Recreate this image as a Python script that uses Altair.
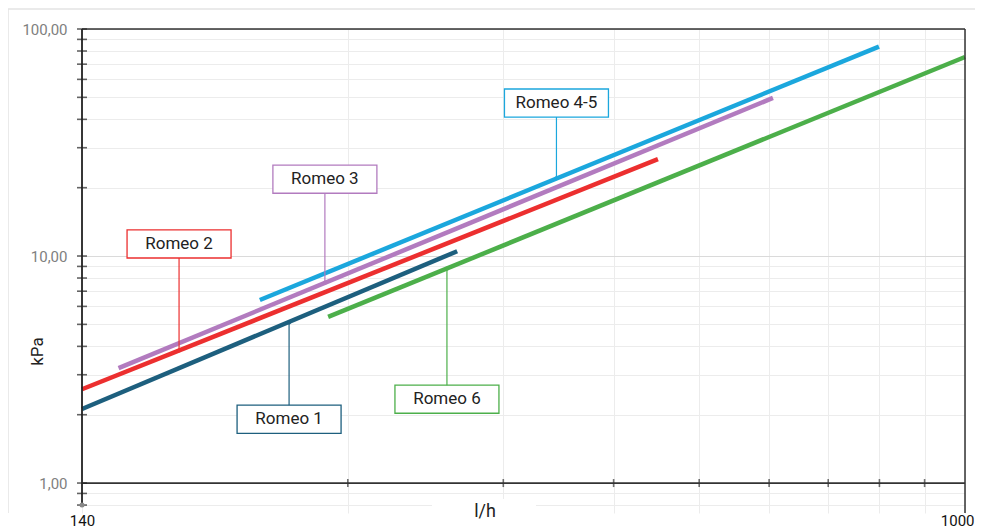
import altair as alt
import pandas as pd

# ---- data ----
series = ["Romeo 1", "Romeo 2", "Romeo 3", "Romeo 4-5", "Romeo 6"]
colors = ["#1d5f7e", "#ec2f2f", "#b27bbf", "#1ba7dd", "#4caf4a"]
x_start = [100, 100, 110, 159, 190]
x_end = [266, 449, 606, 799, 1000]
y_start = [2.12, 2.59, 3.21, 6.40, 5.39]
y_end = [10.5, 26.7, 49.7, 83.7, 75.3]

label_x = [171.6, 128.8, 188.4, 344.6, 259]
label_anchor_y = [5.1, 3.84, 7.63, 22.0, 8.82]
label_box_y = [1.91, 11.3, 21.8, 47.2, 2.34]

x_ticks = [100, 200, 300, 400, 500, 600, 700, 800, 900, 1000]
x_label_values = [100, 1000]
x_label_texts = ["140", "1000"]
y_ticks = [0.8, 0.9, 1, 2, 3, 4, 5, 6, 7, 8, 9, 10, 20, 30, 40, 50, 60, 70, 80, 90, 100]
y_label_values = [1, 10, 100]
y_label_texts = ["1,00", "10,00", "100,00"]
y_domain = [0.738, 100]
x_domain = [100, 1000]

# ---- tables ----
rows = []
for s, xa, xb, ya, yb in zip(series, x_start, x_end, y_start, y_end):
    rows.append({"series": s, "x": xa, "y": ya})
    rows.append({"series": s, "x": xb, "y": yb})
df_lines = pd.DataFrame(rows)
df_ann = pd.DataFrame({"series": series, "x": label_x, "ya": label_anchor_y, "yb": label_box_y})
df_yt = pd.DataFrame({"y": y_ticks})
df_xt = pd.DataFrame({"x": x_ticks[1:-1], "y": [1] * (len(x_ticks) - 2)})
df_base = pd.DataFrame({"y": [1]})
df_left = pd.DataFrame({"y": [min(y_ticks)], "y2": [100]})
df_dot = pd.DataFrame({"x": [100], "y": [min(y_ticks)]})

W, H = 883, 484
xs = alt.Scale(type="log", domain=x_domain, nice=False)
ys = alt.Scale(type="log", domain=y_domain, nice=False)
cs = alt.Scale(domain=series, range=colors)


def case_expr(vals, texts):
    e = "''"
    for v, t in zip(reversed(vals), reversed(texts)):
        e = f"(datum.value == {v} ? '{t}' : {e})"
    return e


last_x = x_label_values[-1]
xaxis = alt.Axis(values=x_ticks, labelExpr=case_expr(x_label_values, x_label_texts),
                 ticks=False, domain=False, grid=True, gridColor="#ececec", gridWidth=1,
                 labelFontSize=15, labelColor="#111111", labelPadding=12, labelFlush=False,
                 labelOverlap=False, labelBaseline="alphabetic",
                 labelAlign={"condition": {"test": f"datum.value == {last_x}", "value": "right"},
                             "value": "center"},
                 labelOffset={"condition": {"test": f"datum.value == {last_x}", "value": 9},
                              "value": 0},
                 title=None)
yaxis = alt.Axis(values=y_ticks, labelExpr=case_expr(y_label_values, y_label_texts),
                 ticks=False, domain=False, grid=True,
                 gridColor={"condition": {"test": "indexof([1,10,100], datum.value) >= 0", "value": "#dadada"},
                            "value": "#ececec"},
                 labelFontSize=15, labelColor="#808080", labelPadding=15, labelOverlap=False,
                 title="kPa", titleFontSize=17, titleFontWeight="normal", titleColor="#222222",
                 titleX=-45, titleY=322, titleAngle=270, titleBaseline="middle", titleAlign="center")

lines = alt.Chart(df_lines).mark_line(strokeWidth=4.5, strokeCap="butt").encode(
    x=alt.X("x:Q", scale=xs, axis=xaxis),
    y=alt.Y("y:Q", scale=ys, axis=yaxis),
    color=alt.Color("series:N", scale=cs, legend=None),
    detail="series:N",
)

# frame & axis lines
outer_top = alt.Chart().mark_rule(color="#e3e3e3", strokeWidth=1.5).encode(
    x=alt.value(-74), x2=alt.value(W + 30), y=alt.value(-20))
outer_left = alt.Chart().mark_rule(color="#e3e3e3", strokeWidth=1.5).encode(
    x=alt.value(-74), y=alt.value(-20), y2=alt.value(H))
gap = alt.Chart().mark_rect(color="white").encode(
    x=alt.value(350), x2=alt.value(454), y=alt.value(470), y2=alt.value(H + 20))
xtitle = alt.Chart().mark_text(text="l/h", fontSize=18, color="#222222", baseline="middle").encode(
    x=alt.value(403), y=alt.value(483))
top_rule = alt.Chart().mark_rule(color="#333333", strokeWidth=1.5).encode(
    x=alt.value(0), x2=alt.value(W), y=alt.value(0))
right_rule = alt.Chart().mark_rule(color="#333333", strokeWidth=1.5).encode(
    x=alt.value(W), y=alt.value(0), y2=alt.value(H))
base_rule = alt.Chart(df_base).mark_rule(color="#333333", strokeWidth=1.8).encode(
    y=alt.Y("y:Q", scale=ys), x=alt.value(0), x2=alt.value(W))
left_rule = alt.Chart(df_left).mark_rule(color="#222222", strokeWidth=1.8).encode(
    x=alt.value(0), y=alt.Y("y:Q", scale=ys), y2="y2:Q")
yticks = alt.Chart(df_yt).mark_tick(color="#222222", size=10, thickness=1.6, orient="horizontal").encode(
    y=alt.Y("y:Q", scale=ys), x=alt.value(0))
xticks = alt.Chart(df_xt).mark_tick(color="#333333", size=8, thickness=1.6, orient="vertical").encode(
    x=alt.X("x:Q", scale=xs), y=alt.Y("y:Q", scale=ys))
dot = alt.Chart(df_dot).mark_circle(color="#888888", size=25, opacity=1).encode(
    x=alt.X("x:Q", scale=xs), y=alt.Y("y:Q", scale=ys))

# annotations
leaders = alt.Chart(df_ann).mark_rule(strokeWidth=1.2).encode(
    x=alt.X("x:Q", scale=xs), y=alt.Y("ya:Q", scale=ys), y2="yb:Q",
    color=alt.Color("series:N", scale=cs, legend=None))
anchors = alt.Chart(df_ann).mark_circle(size=16, opacity=1).encode(
    x=alt.X("x:Q", scale=xs), y=alt.Y("ya:Q", scale=ys),
    color=alt.Color("series:N", scale=cs, legend=None))
box_path = "M-1,-0.27L1,-0.27L1,0.27L-1,0.27Z"
boxes = alt.Chart(df_ann).mark_point(shape=box_path, size=104 * 104, filled=False, opacity=1,
                                     strokeWidth=1.3).encode(
    x=alt.X("x:Q", scale=xs), y=alt.Y("yb:Q", scale=ys),
    stroke=alt.Stroke("series:N", scale=cs, legend=None),
    fill=alt.value("white"))
texts = alt.Chart(df_ann).mark_text(fontSize=17, color="#222222", baseline="middle", align="center").encode(
    x=alt.X("x:Q", scale=xs), y=alt.Y("yb:Q", scale=ys), text="series:N")

chart = alt.layer(
    lines, outer_top, outer_left, gap, xtitle, top_rule, right_rule, left_rule, base_rule,
    yticks, xticks, dot, leaders, anchors, boxes, texts,
).properties(
    width=W, height=H,
    autosize=alt.AutoSizeParams(type="none"),
    padding={"left": 74, "top": 21, "right": 10, "bottom": 16},
).configure(font="Roboto").configure_view(strokeWidth=0)

chart.save("out.html", embed_options={"renderer": "svg", "actions": False})
